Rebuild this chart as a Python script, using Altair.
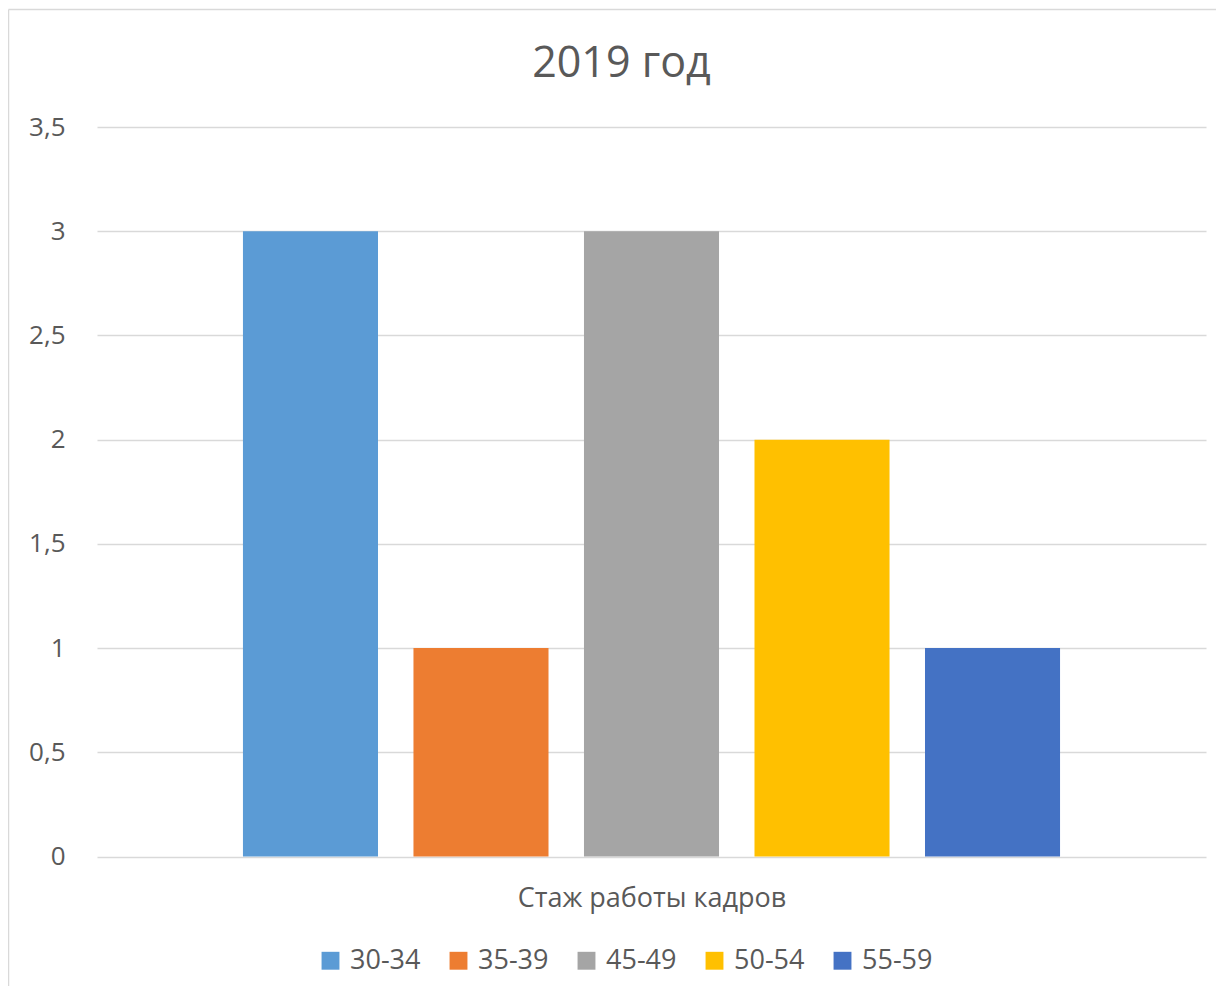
import altair as alt
import pandas as pd

# Data
groups = ["30-34", "35-39", "45-49", "50-54", "55-59"]
values = [3, 1, 3, 2, 1]
colors = ["#5B9BD5", "#ED7D31", "#A5A5A5", "#FFC000", "#4472C4"]
y_ticks = [0, 0.5, 1, 1.5, 2, 2.5, 3, 3.5]
title_text = "2019 год"
x_title = "Стаж работы кадров"

df = pd.DataFrame({"group": groups, "value": values})

FONT = "Open Sans"
TXT = "#595959"
GRID = "#D9D9D9"
W = 1109
H = 729.5

bars = alt.Chart(df).mark_bar().encode(
    x=alt.X(
        "group:N",
        sort=groups,
        scale=alt.Scale(paddingInner=0.208, paddingOuter=0.856),
        axis=alt.Axis(
            labels=False, ticks=False, domain=False, grid=False,
            title=x_title, titleFont=FONT, titleFontSize=27, titleFontWeight="normal",
            titleColor=TXT, titlePadding=50, titleBaseline="alphabetic",
        ),
    ),
    y=alt.Y(
        "value:Q",
        scale=alt.Scale(domain=[0, 3.5], nice=False),
        axis=alt.Axis(
            values=y_ticks, title=None, domain=False, ticks=False,
            labelExpr="replace(toString(datum.value), '.', ',')",
            labelFont=FONT, labelFontSize=26, labelColor=TXT, labelPadding=32,
            grid=True, gridColor=GRID, gridWidth=1.5,
        ),
    ),
    color=alt.Color(
        "group:N",
        scale=alt.Scale(domain=groups, range=colors),
        legend=alt.Legend(
            title=None, orient="none", direction="horizontal",
            legendX=220, legendY=820,
            symbolType="square", symbolSize=320, symbolStrokeWidth=0,
            labelFont=FONT, labelFontSize=27, labelColor=TXT,
            labelOffset=6, columnPadding=24,
        ),
    ),
)

one = alt.Data(values=[{"t": title_text}])

frame_left = alt.Chart(one).mark_rule(color=GRID, strokeWidth=1.5).encode(
    x=alt.value(-88.5), y=alt.value(-117.5), y2=alt.value(900)
)
frame_top = alt.Chart(one).mark_rule(color=GRID, strokeWidth=1.5).encode(
    x=alt.value(-88.5), x2=alt.value(1200), y=alt.value(-117.5)
)
title_mark = alt.Chart(one).mark_text(
    font=FONT, fontSize=43, color=TXT, align="center", baseline="alphabetic"
).encode(
    x=alt.value(W / 2 - 30), y=alt.value(-50), text="t:N"
)

chart = alt.layer(frame_left, frame_top, title_mark, bars).properties(
    width=W,
    height=H,
    background="white",
    autosize=alt.AutoSizeParams(type="none"),
    padding={"left": 89, "top": 119, "right": 10, "bottom": 129},
).configure_view(strokeWidth=0, stroke="transparent")

chart.save("out.html", embed_options={"renderer": "svg", "actions": False})
